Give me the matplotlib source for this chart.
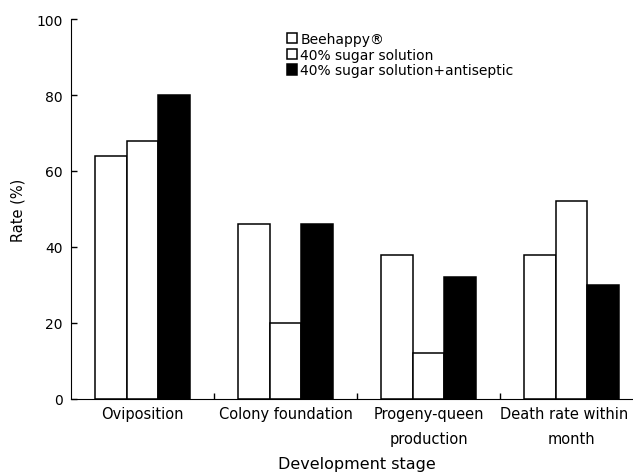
import matplotlib
matplotlib.use("Agg")
import matplotlib.pyplot as plt
import numpy as np

# data
stages = ["Oviposition", "Colony foundation", "Progeny-queen\nproduction",
          "Death rate within 1\nmonth"]
beehappy = [64, 46, 38, 38]
sugar = [68, 20, 12, 52]
sugar_antiseptic = [80, 46, 32, 30]
series_names = ["Beehappy\u00ae", "40% sugar solution",
                "40% sugar solution+antiseptic"]
yticks = [0, 20, 40, 60, 80, 100]

plt.rcParams['font.family'] = ['DejaVu Sans']

fig = plt.figure(figsize=(6.33, 4.77), dpi=100)
ax = fig.add_axes([71 / 633, 77 / 477, 572 / 633, 380 / 477])

x = np.arange(len(stages))
w = 0.22
fills = ["white", "white", "black"]
for k, vals in enumerate([beehappy, sugar, sugar_antiseptic]):
    ax.bar(x + (k - 1) * w, vals, width=w, color=fills[k], edgecolor="black",
           linewidth=1.1, label=series_names[k])

ax.set_xlim(-0.5, len(stages) - 0.5)
ax.set_ylim(0, 100)
ax.set_yticks(yticks)
ax.tick_params(axis='y', direction='in', length=4, width=1, pad=6, labelsize=10)

# category labels centred, small tick marks between the groups
ax.set_xticks(x)
ax.set_xticklabels(stages, fontsize=10.5, linespacing=1.8)
ax.set_xticks(x[:-1] + 0.5, minor=True)
ax.tick_params(axis='x', which='major', length=0, pad=5)
ax.tick_params(axis='x', which='minor', direction='in', length=4, width=1)

ax.spines['top'].set_visible(False)
ax.spines['right'].set_visible(False)

ax.set_ylabel("Rate (%)", fontsize=10.5, labelpad=8)
fig.text(357 / 633, 1 - 465 / 477, "Development stage", fontsize=11.5,
         ha='center', va='center')

fig.legend(loc='upper left', bbox_to_anchor=(287 / 633, 1 - 33 / 477),
           frameon=False, fontsize=10, handlelength=0.75, handleheight=0.75,
           handletextpad=0.2, labelspacing=0.12, borderpad=0, borderaxespad=0)

fig.savefig("out.png", dpi=100)
